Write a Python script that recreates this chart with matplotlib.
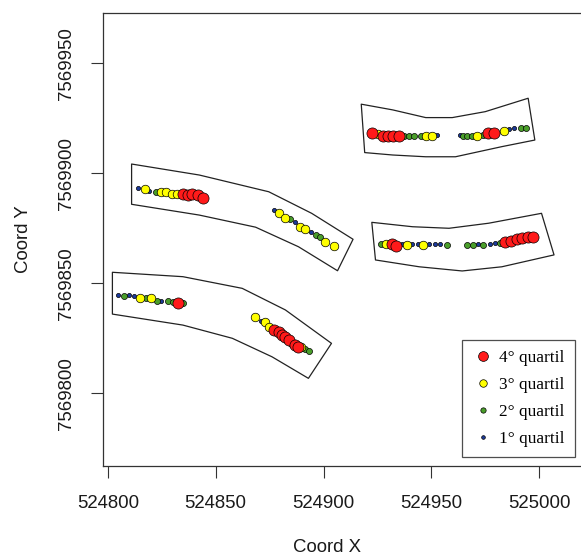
import numpy as np
import matplotlib
matplotlib.use("Agg")
import matplotlib.pyplot as plt
from matplotlib.patches import Polygon
from matplotlib.lines import Line2D

# Buffer strips around each transect (UTM easting / northing)
strip1_x = [524811.0, 524842.4, 524874.6, 524894.5, 524913.7, 524906.5, 524888.4, 524868.5, 524842.4, 524811.0]
strip1_y = [7569904.2, 7569899.2, 7569891.6, 7569881.8, 7569870.0, 7569855.7, 7569866.6, 7569875.5, 7569881.0, 7569885.9]
strip2_x = [524802.1, 524834.8, 524862.3, 524882.3, 524903.7, 524893.0, 524876.1, 524857.7, 524834.8, 524802.1]
strip2_y = [7569855.0, 7569853.0, 7569847.7, 7569837.9, 7569822.7, 7569806.8, 7569816.6, 7569825.0, 7569831.0, 7569836.0]
strip3_x = [524917.5, 524932.1, 524947.4, 524959.7, 524975.0, 524994.9, 524998.0, 524982.7, 524961.2, 524947.4, 524932.1, 524919.1]
strip3_y = [7569931.4, 7569928.8, 7569925.3, 7569925.3, 7569928.0, 7569934.1, 7569915.1, 7569912.1, 7569907.5, 7569907.5, 7569908.3, 7569909.4]
strip4_x = [524922.4, 524941.3, 524958.2, 524976.6, 525001.1, 525006.9, 524982.7, 524964.3, 524944.4, 524924.1]
strip4_y = [7569877.7, 7569875.7, 7569875.0, 7569877.3, 7569881.8, 7569862.9, 7569857.5, 7569855.6, 7569857.5, 7569860.6]

# Sample points: easting, northing, quartile (1-4)
pts_x = [
    524813.8, 524817.1, 524819.1, 524822.2, 524824.8, 524827.1, 524829.9, 524832.0, 524834.8, 524837.1, 524839.2, 524841.7, 524844.0,
    524876.9, 524879.5, 524882.3, 524884.6, 524886.6, 524888.9, 524891.5, 524894.1, 524896.4, 524898.4, 524900.7, 524905.0,
    524804.9, 524807.5, 524809.9, 524812.2, 524814.9, 524817.5, 524819.9, 524822.8, 524824.8, 524827.9, 524830.2, 524832.5, 524834.8,
    524868.2, 524870.8, 524872.8, 524874.6, 524876.9, 524879.2, 524880.7, 524882.3, 524883.8, 524885.3, 524886.9, 524888.0, 524889.5, 524891.5, 524893.3,
    524922.6, 524925.2, 524927.5, 524929.8, 524932.4, 524934.9, 524937.5, 524939.8, 524942.1, 524945.1, 524947.7, 524950.5, 524952.8,
    524963.2, 524964.7, 524966.6, 524968.9, 524971.2, 524973.8, 524976.1, 524978.9, 524983.9, 524986.0, 524988.3, 524991.5, 524993.7,
    524926.7, 524929.0, 524931.8, 524933.6, 524936.4, 524938.5, 524941.0, 524943.6, 524946.3, 524949.0, 524951.7, 524954.0, 524957.1,
    524966.6, 524969.3, 524971.6, 524973.9, 524977.0, 524979.3, 524981.9, 524984.2, 524986.9, 524989.6, 524992.2, 524994.6, 524997.2,
]
pts_y = [
    7569893.2, 7569892.9, 7569891.8, 7569891.6, 7569891.6, 7569891.6, 7569890.6, 7569890.6, 7569890.5, 7569890.1, 7569890.4, 7569890.1, 7569888.9,
    7569883.3, 7569882.1, 7569879.8, 7569879.1, 7569878.0, 7569875.7, 7569874.7, 7569873.5, 7569872.0, 7569870.9, 7569868.9, 7569867.0,
    7569844.7, 7569844.2, 7569844.7, 7569844.4, 7569843.2, 7569843.2, 7569843.2, 7569842.0, 7569842.0, 7569842.0, 7569841.6, 7569840.9, 7569840.9,
    7569834.8, 7569833.0, 7569832.3, 7569830.3, 7569828.8, 7569828.0, 7569826.5, 7569825.7, 7569824.2, 7569823.0, 7569822.0, 7569821.2, 7569820.9, 7569820.0, 7569819.2,
    7569918.2, 7569917.9, 7569917.0, 7569917.0, 7569917.0, 7569917.0, 7569917.0, 7569917.0, 7569917.0, 7569917.0, 7569917.0, 7569917.0, 7569917.3,
    7569917.4, 7569917.1, 7569917.1, 7569917.1, 7569917.1, 7569917.4, 7569918.2, 7569918.2, 7569919.2, 7569920.0, 7569920.5, 7569920.7, 7569920.7,
    7569867.7, 7569867.7, 7569867.7, 7569867.0, 7569867.7, 7569867.4, 7569867.7, 7569867.7, 7569867.4, 7569867.7, 7569867.7, 7569867.7, 7569867.4,
    7569867.4, 7569867.4, 7569867.7, 7569867.4, 7569867.7, 7569868.2, 7569868.2, 7569868.9, 7569869.2, 7569870.0, 7569870.5, 7569870.9, 7569871.2,
]
pts_q = [
    1, 3, 1, 2, 3, 3, 3, 3, 4, 4, 4, 4, 4,
    1, 3, 3, 2, 1, 3, 3, 1, 2, 2, 3, 3,
    1, 2, 1, 1, 3, 2, 3, 2, 1, 2, 2, 4, 2,
    3, 1, 3, 3, 4, 4, 4, 4, 4, 3, 4, 4, 3, 2, 2,
    4, 3, 4, 4, 4, 4, 2, 2, 2, 2, 3, 3, 1,
    1, 2, 2, 2, 3, 2, 4, 4, 3, 1, 1, 2, 2,
    2, 3, 4, 4, 1, 3, 1, 1, 3, 1, 1, 1, 2,
    2, 2, 1, 2, 1, 1, 2, 4, 4, 4, 4, 4, 4,
]

quartile_labels = ["1° quartil", "2° quartil", "3° quartil", "4° quartil"]
quartile_colors = ["#1c3a9a", "#4a9e2a", "#ffff00", "#ff1a1a"]
quartile_sizes = [9, 19, 38, 64]

fig = plt.figure(figsize=(5.81, 5.56), dpi=100)
ax = fig.add_axes([102.7 / 581, 1 - 465.7 / 556, 1 - 102.7 / 581 + 0.01, (465.7 - 13.3) / 556])

for sx, sy in [(strip1_x, strip1_y), (strip2_x, strip2_y), (strip3_x, strip3_y), (strip4_x, strip4_y)]:
    ax.add_patch(Polygon(np.column_stack([sx, sy]), closed=True, fill=False,
                         edgecolor="#222222", linewidth=0.9, joinstyle="round"))

pts_x = np.array(pts_x)
pts_y = np.array(pts_y)
pts_q = np.array(pts_q)
for q in [1, 2, 3, 4]:
    m = pts_q == q
    ax.scatter(pts_x[m], pts_y[m], s=quartile_sizes[q - 1], c=quartile_colors[q - 1],
               edgecolors="black", linewidths=0.5, zorder=3)

ax.set_xlim(524797.6, 524797.6 + (581 * 1.0172 - 102.7) / 2.175)
ax.set_ylim(7569767.1, 7569972.7)
ax.set_xticks([524800, 524850, 524900, 524950, 525000])
ax.set_yticks([7569800, 7569850, 7569900, 7569950])
ax.ticklabel_format(useOffset=False, style="plain")

tick_font = {"family": "Liberation Sans", "size": 13.4}
ax.set_xticklabels(["524800", "524850", "524900", "524950", "525000"], fontdict=tick_font, color="#1a1a1a")
ax.set_yticklabels(["7569800", "7569850", "7569900", "7569950"], fontdict=tick_font, color="#1a1a1a",
                   rotation=90, va="center")
ax.tick_params(axis="both", length=8.6, width=0.8, color="#333333")
ax.tick_params(axis="x", pad=12.5)
ax.tick_params(axis="y", pad=11)
for sp in ax.spines.values():
    sp.set_linewidth(0.9)
    sp.set_color("#333333")

fig.text(326.7 / 581, 1 - 547.7 / 556, "Coord X", ha="center", va="center",
         family="Liberation Sans", size=13.4, color="#1a1a1a")
fig.text(24 / 581, 1 - 239.5 / 556, "Coord Y", ha="center", va="center", rotation=90,
         family="Liberation Sans", size=13.4, color="#1a1a1a")

handles = [Line2D([], [], linestyle="none", marker="o", markersize=np.sqrt(quartile_sizes[q - 1]) * 0.88,
                  markerfacecolor=quartile_colors[q - 1], markeredgecolor="black", markeredgewidth=0.5)
           for q in [4, 3, 2, 1]]
leg = ax.legend(handles, [quartile_labels[q - 1] for q in [4, 3, 2, 1]],
                loc="lower right", bbox_to_anchor=(575 / 581, 1 - 457 / 556),
                bbox_transform=fig.transFigure, borderaxespad=0, frameon=True, fancybox=False,
                prop={"family": "Liberation Serif", "size": 12.4}, labelspacing=0.62,
                handletextpad=0.35, handlelength=1.2, borderpad=0.6)
leg.get_frame().set_edgecolor("#222222")
leg.get_frame().set_linewidth(0.9)

fig.savefig("out.png", dpi=100)
